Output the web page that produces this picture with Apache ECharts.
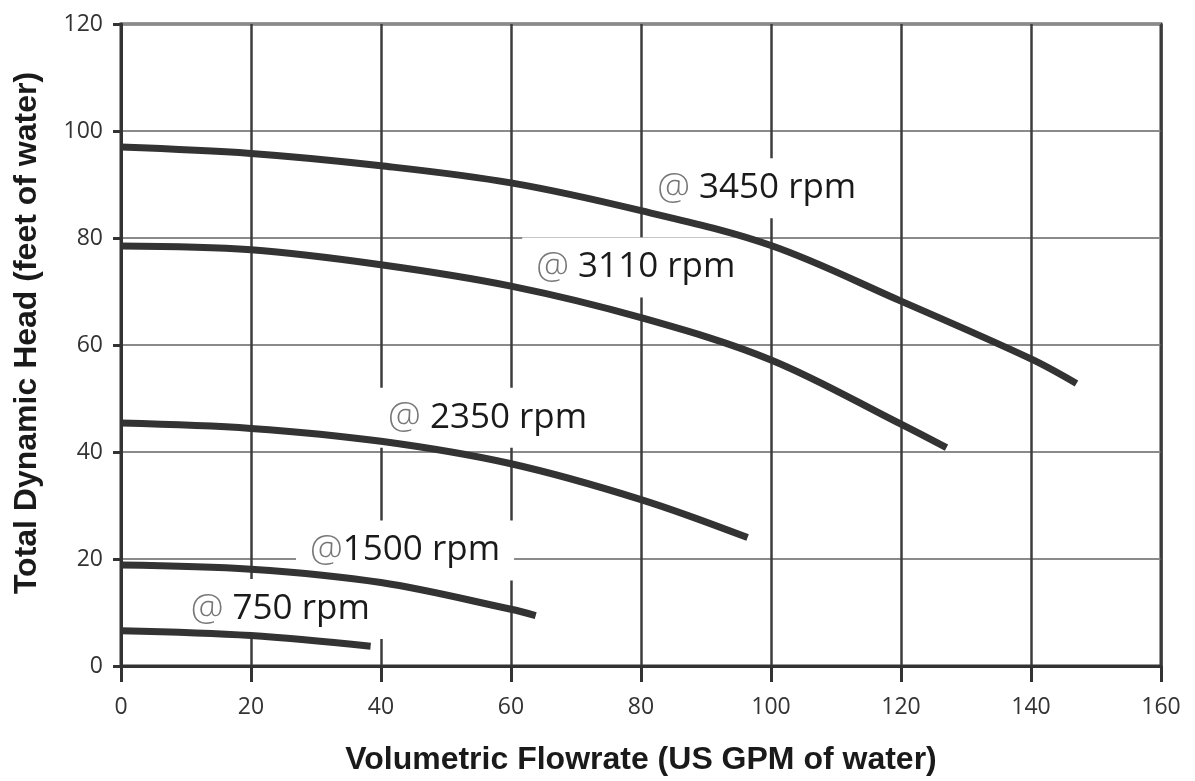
<!DOCTYPE html>
<html>
<head>
<meta charset="utf-8">
<script src="https://cdn.jsdelivr.net/npm/echarts@6/dist/echarts.min.js"></script>
<style>
  html, body { margin: 0; padding: 0; background: #fff; }
  #chart { width: 1195px; height: 781px; }
</style>
</head>
<body>
<div id="chart"></div>
<script>
// ---- data ----
const speeds = ['3450', '3110', '2350', '1500', '750'];
const labelTexts = ['@ 3450 rpm', '@ 3110 rpm', '@ 2350 rpm', '@1500 rpm', '@ 750 rpm'];

const flow3450 = [0, 20, 40, 60, 80, 100, 120, 140, 147];
const head3450 = [97.0, 95.8, 93.5, 90.3, 85.1, 78.6, 68.2, 57.4, 52.8];

const flow3110 = [0, 20, 40, 60, 80, 100, 120, 127];
const head3110 = [78.5, 77.8, 75.0, 71.0, 65.1, 57.2, 45.2, 40.8];

const flow2350 = [0, 20, 40, 60, 80, 96.4];
const head2350 = [45.4, 44.4, 42.0, 37.8, 31.1, 24.0];

const flow1500 = [0, 20, 40, 60, 63.8];
const head1500 = [18.9, 18.1, 15.6, 10.6, 9.4];

const flow750 = [0, 20, 38.4];
const head750 = [6.6, 5.7, 3.7];

// annotation anchors (data coordinates) for the rpm labels
const labelFlow = [97.8, 79.2, 56.4, 43.7, 24.5];
const labelHead = [89.3, 74.5, 46.4, 21.6, 10.65];

const xTitle = 'Volumetric Flowrate (US GPM of water)';
const yTitle = 'Total Dynamic Head (feet of water)';

// ---- build ----
const flows = [flow3450, flow3110, flow2350, flow1500, flow750];
const heads = [head3450, head3110, head2350, head1500, head750];

const pair = (xs, ys) => xs.map((x, i) => [x, ys[i]]);

const curveSeries = speeds.map((s, k) => ({
  name: s + ' rpm',
  type: 'line',
  z: 6,
  data: pair(flows[k], heads[k]),
  smooth: 0.35,
  showSymbol: false,
  symbol: 'none',
  lineStyle: { color: '#333', width: 7, cap: 'butt' },
  silent: true
}));

const labelSeries = {
  type: 'scatter',
  z: 5,
  symbolSize: 1,
  itemStyle: { color: 'rgba(255,255,255,0)', opacity: 1 },
  silent: true,
  data: labelTexts.map((t, k) => ({
    value: [labelFlow[k], labelHead[k]],
    label: {
      show: true,
      position: 'inside',
      formatter: '{a|@}{b|' + t.slice(1) + '}',
      backgroundColor: '#fff',
      padding: [11, 14],
      rich: {
        a: { fontFamily: 'Open Sans', fontWeight: 300, fontSize: 37, color: '#777', lineHeight: 38 },
        b: { fontFamily: 'Open Sans', fontWeight: 'normal', fontSize: 35, color: '#1a1a1a', lineHeight: 38 }
      }
    }
  }))
};

const chart = echarts.init(document.getElementById('chart'), null, { renderer: 'canvas' });
chart.setOption({
  backgroundColor: '#fff',
  animation: false,
  grid: {
    left: 121, right: 34, top: 24, bottom: 115,
    show: true, borderColor: '#333', borderWidth: 3, backgroundColor: 'transparent'
  },
  xAxis: {
    type: 'value', min: 0, max: 160, interval: 20, z: 0,
    name: xTitle, nameLocation: 'middle', nameGap: 78,
    nameTextStyle: { fontFamily: 'Liberation Sans', fontWeight: 'bold', fontSize: 32, color: '#1a1a1a' },
    axisLine: { show: true, lineStyle: { color: '#333', width: 3 } },
    axisTick: { show: true, inside: false, length: 16, lineStyle: { color: '#333', width: 3 } },
    axisLabel: { margin: 30, fontFamily: 'Open Sans', fontSize: 23, color: '#333' },
    splitLine: { show: true, lineStyle: { color: '#3d3d3d', width: 2.5 } }
  },
  yAxis: {
    type: 'value', min: 0, max: 120, interval: 20, z: 0,
    name: yTitle, nameLocation: 'middle', nameGap: 78, nameRotate: 90,
    nameTextStyle: { fontFamily: 'Liberation Sans', fontWeight: 'bold', fontSize: 32, color: '#1a1a1a', padding: [0, 0, 0, 24] },
    axisLine: { show: true, lineStyle: { color: '#333', width: 3 } },
    axisTick: { show: true, inside: false, length: 8, lineStyle: { color: '#333', width: 3 } },
    axisLabel: { margin: 18, fontFamily: 'Open Sans', fontSize: 23, color: '#333' },
    splitLine: { show: true, lineStyle: { color: '#8a8a8a', width: 2 } }
  },
  series: curveSeries.concat([labelSeries])
});
</script>
</body>
</html>
